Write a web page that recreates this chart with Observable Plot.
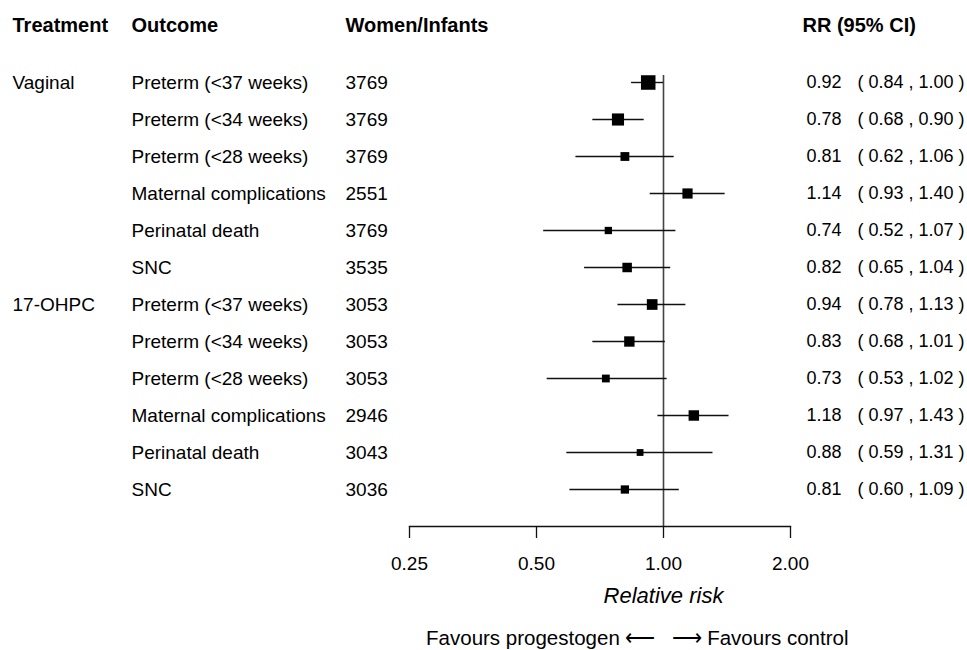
<!DOCTYPE html>
<html>
<head>
<meta charset="utf-8">
<script src="https://cdn.jsdelivr.net/npm/d3@7"></script>
<script src="https://cdn.jsdelivr.net/npm/@observablehq/plot@0.6"></script>
<style>
  html, body { margin: 0; padding: 0; background: #fff; }
  #chart svg { display: block; }
</style>
</head>
<body>
<div id="chart"></div>
<script>
// ---- data ----
const treatments = ["Vaginal", "", "", "", "", "", "17-OHPC", "", "", "", "", ""];
const outcomes = [
  "Preterm (<37 weeks)", "Preterm (<34 weeks)", "Preterm (<28 weeks)",
  "Maternal complications", "Perinatal death", "SNC",
  "Preterm (<37 weeks)", "Preterm (<34 weeks)", "Preterm (<28 weeks)",
  "Maternal complications", "Perinatal death", "SNC"
];
const women = [3769, 3769, 3769, 2551, 3769, 3535, 3053, 3053, 3053, 2946, 3043, 3036];
const rr    = [0.92, 0.78, 0.81, 1.14, 0.74, 0.82, 0.94, 0.83, 0.73, 1.18, 0.88, 0.81];
const lower = [0.84, 0.68, 0.62, 0.93, 0.52, 0.65, 0.78, 0.68, 0.53, 0.97, 0.59, 0.60];
const upper = [1.00, 0.90, 1.06, 1.40, 1.07, 1.04, 1.13, 1.01, 1.02, 1.43, 1.31, 1.09];
const xTicks = [0.25, 0.5, 1, 2];
const headers = ["Treatment", "Outcome", "Women/Infants", "RR (95% CI)"];
const axisLabel = "Relative risk";
const favours = ["Favours progestogen \u27F5", "\u27F6 Favours control"];

// ---- table built from the arrays ----
const f2 = d3.format(".2f");
const rows = rr.map((v, i) => ({
  row: i,
  treatment: treatments[i],
  outcome: outcomes[i],
  n: String(women[i]),
  rr: v,
  lo: lower[i],
  hi: upper[i],
  precision: 1 / Math.log(upper[i] / lower[i]),
  rrText: f2(v),
  ciText: `( ${f2(lower[i])} , ${f2(upper[i])} )`
}));
const pExt = d3.extent(rows, d => d.precision);

const FONT = "Liberation Sans, Arial, Helvetica, sans-serif";
const FS = 19;
const HFS = 20;

const chart = Plot.plot({
  width: 967,
  height: 650,
  marginLeft: 409,
  marginRight: 177,
  marginTop: 75,
  marginBottom: 124,
  style: { fontFamily: FONT, fontSize: FS + "px", background: "#fff", color: "#000" },
  x: { type: "log", domain: [0.25, 2] },
  y: { type: "point", domain: d3.range(rows.length), range: [81, 489], padding: 0, axis: null },
  r: { type: "log", domain: pExt, range: [3.84, 8.2] },
  marks: [
    // reference line at RR = 1
    Plot.ruleX([1], { stroke: "#444", strokeWidth: 1.6 }),
    // axis line
    Plot.frame({ anchor: "bottom", stroke: "#111", strokeWidth: 1.3 }),
    Plot.axisX({
      anchor: "bottom", ticks: xTicks, tickFormat: f2, tickSize: 12, tickPadding: 18,
      fontSize: FS, label: null, stroke: "#111", strokeWidth: 1.3
    }),
    // confidence intervals
    Plot.ruleY(rows, { y: "row", x1: "lo", x2: "hi", stroke: "#111", strokeWidth: 1.4 }),
    // point estimates
    Plot.dot(rows, { x: "rr", y: "row", r: "precision", symbol: "square", fill: "#000", stroke: null }),
    // text columns
    Plot.text(rows, { y: "row", text: "treatment", frameAnchor: "left", dx: -397, textAnchor: "start", fontSize: FS }),
    Plot.text(rows, { y: "row", text: "outcome", frameAnchor: "left", dx: -278, textAnchor: "start", fontSize: FS }),
    Plot.text(rows, { y: "row", text: "n", frameAnchor: "left", dx: -64, textAnchor: "start", fontSize: FS }),
    Plot.text(rows, { y: "row", text: "rrText", frameAnchor: "right", dx: 51, textAnchor: "end", fontSize: 18 }),
    Plot.text(rows, { y: "row", text: "ciText", frameAnchor: "right", dx: 67, textAnchor: "start", fontSize: 18 }),
    // headers
    Plot.text([headers[0]], { text: d => d, frameAnchor: "top-left", lineAnchor: "middle", dx: -397, dy: -50, textAnchor: "start", fontWeight: "bold", fontSize: HFS }),
    Plot.text([headers[1]], { text: d => d, frameAnchor: "top-left", lineAnchor: "middle", dx: -278, dy: -50, textAnchor: "start", fontWeight: "bold", fontSize: HFS }),
    Plot.text([headers[2]], { text: d => d, frameAnchor: "top-left", lineAnchor: "middle", dx: -64, dy: -50, textAnchor: "start", fontWeight: "bold", fontSize: HFS }),
    Plot.text([headers[3]], { text: d => d, frameAnchor: "top-right", lineAnchor: "middle", dx: 12, dy: -50, textAnchor: "start", fontWeight: "bold", fontSize: HFS }),
    // axis title
    Plot.text([axisLabel], { x: () => 1, text: d => d, frameAnchor: "bottom", lineAnchor: "middle", dy: 69, fontStyle: "italic", fontSize: 22 }),
    // favours annotation
    Plot.text([favours[0]], { x: () => 1, text: d => d, frameAnchor: "bottom", lineAnchor: "middle", dy: 112, dx: -8, textAnchor: "end", fontSize: 20.5 }),
    Plot.text([favours[1]], { x: () => 1, text: d => d, frameAnchor: "bottom", lineAnchor: "middle", dy: 112, dx: 8, textAnchor: "start", fontSize: 20.5 })
  ]
});
document.getElementById("chart").append(chart);
</script>
</body>
</html>
